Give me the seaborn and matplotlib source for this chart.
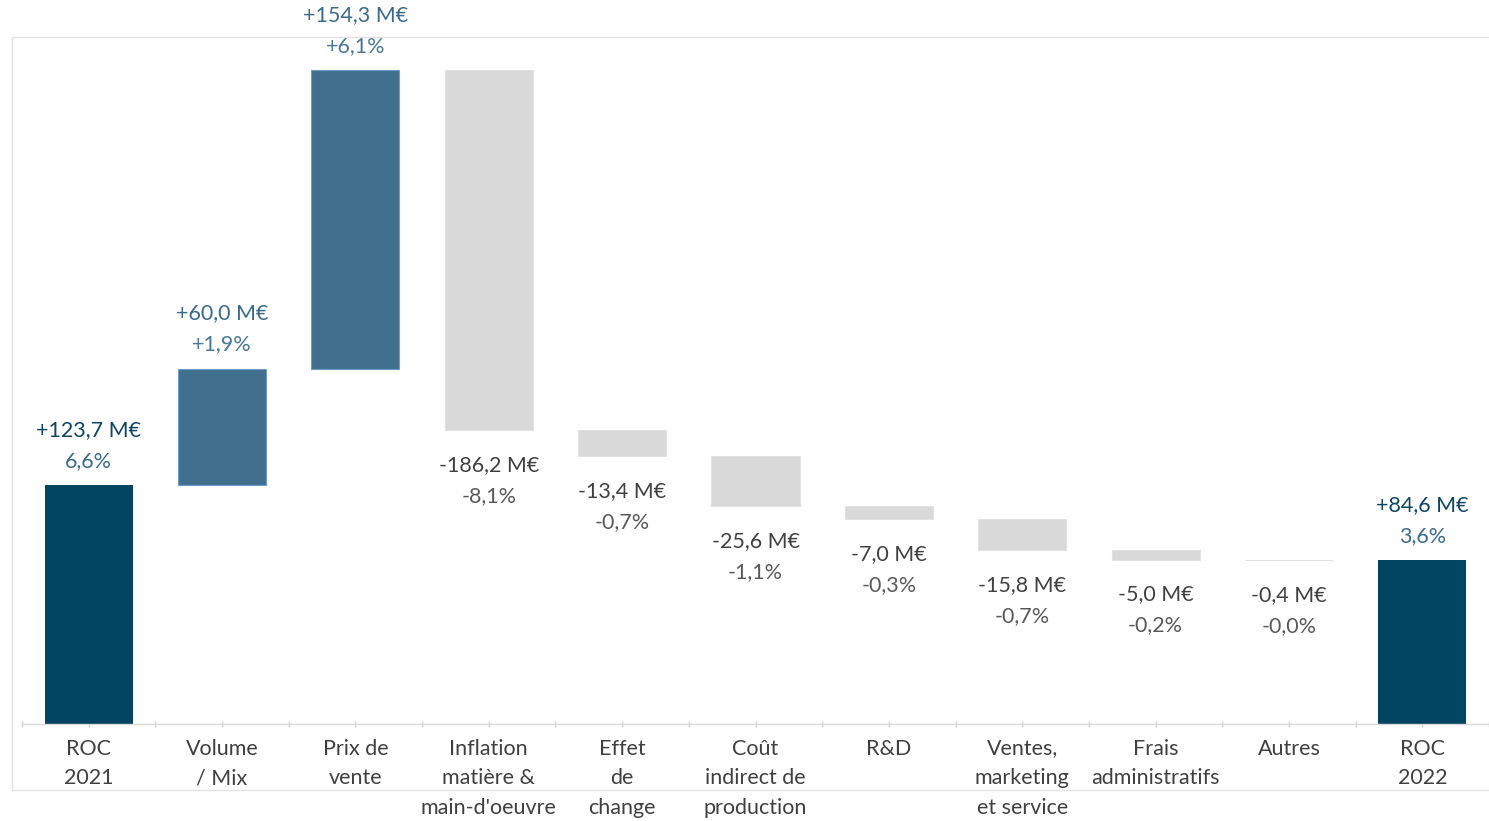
import matplotlib
matplotlib.use("Agg")
import matplotlib.pyplot as plt
import seaborn as sns
import numpy as np
import pandas as pd
from matplotlib.patches import Rectangle

# ---- data ----
categories = ["ROC\n2021", "Volume\n/ Mix", "Prix de\nvente",
              "Inflation\nmatière &\nmain-d'oeuvre", "Effet\nde\nchange",
              "Coût\nindirect de\nproduction", "R&D",
              "Ventes,\nmarketing\net service", "Frais\nadministratifs",
              "Autres", "ROC\n2022"]
changes = [123.7, 60.0, 154.3, -186.2, -13.4, -25.6, -7.0, -15.8, -5.0, -0.4, 84.6]
kinds = ["total", "up", "up", "down", "down", "down", "down", "down", "down", "down", "total"]
value_labels = ["+123,7 M€", "+60,0 M€", "+154,3 M€", "-186,2 M€", "-13,4 M€",
                "-25,6 M€", "-7,0 M€", "-15,8 M€", "-5,0 M€", "-0,4 M€", "+84,6 M€"]
pct_labels = ["6,6%", "+1,9%", "+6,1%", "-8,1%", "-0,7%", "-1,1%", "-0,3%",
              "-0,7%", "-0,2%", "-0,0%", "3,6%"]

# ---- waterfall geometry from data ----
bottoms, heights = [], []
running = 0.0
for v, k in zip(changes, kinds):
    if k == "total":
        bottoms.append(0.0); heights.append(v); running = v
    elif v >= 0:
        bottoms.append(running); heights.append(v); running += v
    else:
        running += v
        bottoms.append(running); heights.append(-v)

df = pd.DataFrame({"cat": categories, "height": heights})

bar_colors = {"total": "#024562", "up": "#41708E", "down": "#D9D9D9"}
val_colors = {"total": "#0E4464", "up": "#3A6A8A", "down": "#404040"}
pct_colors = {"total": "#3A6C8C", "up": "#4A7896", "down": "#595959"}

sns.set_style("white")
plt.rcParams["font.family"] = ["Lato", "DejaVu Sans"]

W, H = 1489, 821
fig = plt.figure(figsize=(W / 100, H / 100), dpi=100)
ax = fig.add_axes([22 / W, (H - 724) / H, 1 - 22 / W, (724 - 37) / H])

sns.barplot(data=df, x="cat", y="height", bottom=bottoms, color="#D9D9D9",
            width=0.66, errorbar=None, ax=ax, linewidth=0, saturation=1)
for p, k in zip(ax.patches, kinds):
    p.set_facecolor(bar_colors[k])
    if k == "up":
        p.set_edgecolor("#6E9CC8")
        p.set_linewidth(0.8)
    elif k == "down":
        p.set_edgecolor("#E2E2E2")
        p.set_linewidth(0.8)

ax.set_xlim(-0.5, len(categories) - 0.56)
ax.set_ylim(0, 355)

pt = 0.72  # px -> points at 100 dpi
fs = 15.5
for i, k in enumerate(kinds):
    top = bottoms[i] + heights[i]
    if k in ("total", "up"):
        ax.annotate(value_labels[i], xy=(i, top), xytext=(0, 55 * pt), textcoords="offset points",
                    ha="center", va="center", fontsize=fs, color=val_colors[k])
        ax.annotate(pct_labels[i], xy=(i, top), xytext=(0, 24 * pt), textcoords="offset points",
                    ha="center", va="center", fontsize=fs, color=pct_colors[k])
    else:
        ax.annotate(value_labels[i], xy=(i, bottoms[i]), xytext=(0, -35 * pt), textcoords="offset points",
                    ha="center", va="center", fontsize=fs, color=val_colors[k])
        ax.annotate(pct_labels[i], xy=(i, bottoms[i]), xytext=(0, -66 * pt), textcoords="offset points",
                    ha="center", va="center", fontsize=fs, color=pct_colors[k])

# axes styling
for s in ["top", "right", "left"]:
    ax.spines[s].set_visible(False)
ax.spines["bottom"].set_color("#D9D9D9")
ax.spines["bottom"].set_linewidth(1)
ax.set_yticks([])
ax.set_xlabel("")
ax.set_ylabel("")
ax.set_xticks(range(len(categories)))
ax.set_xticklabels(categories, fontsize=fs, color="#404040", linespacing=1.6)
ax.set_xticks(np.arange(-0.5, len(categories) - 0.4, 1.0), minor=True)
ax.tick_params(axis="x", which="both", direction="inout", length=5, width=1,
               color="#D0D0D0", pad=8, bottom=True)

# light outer frame
fig.patches.append(Rectangle((12 / W, (H - 790) / H), 1.0, (790 - 37) / H,
                             transform=fig.transFigure, fill=False,
                             edgecolor="#E2E2E2", linewidth=1, zorder=0))

fig.savefig("out.png", dpi=100)
